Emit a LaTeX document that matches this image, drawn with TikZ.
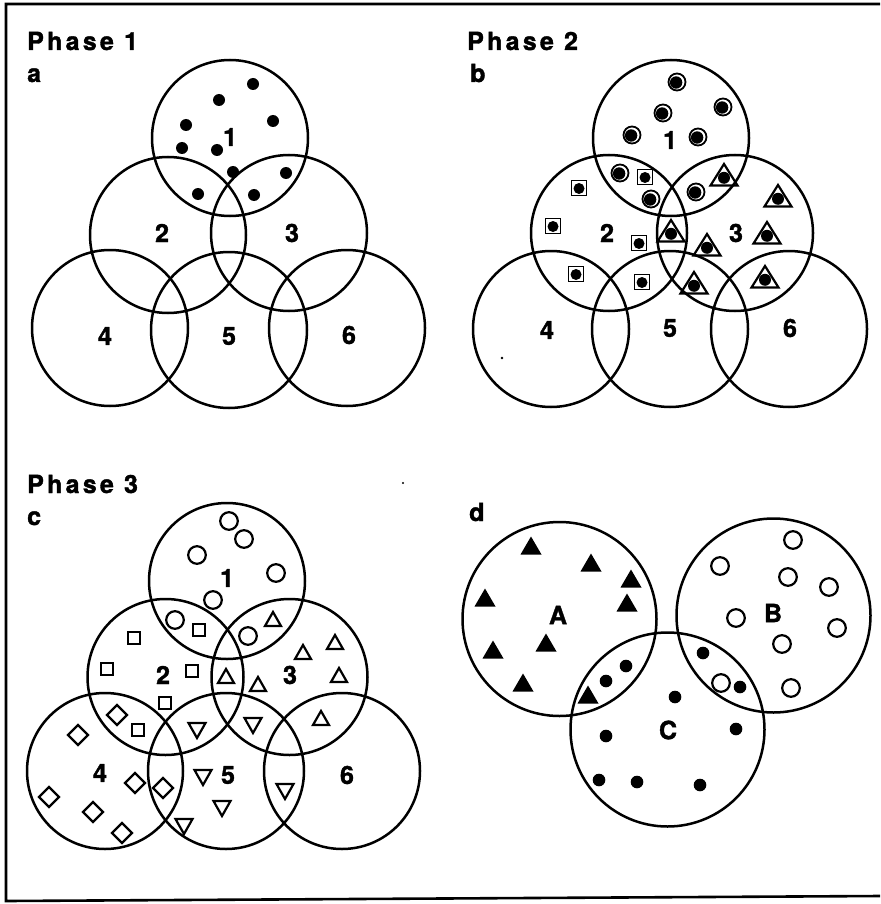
\documentclass[tikz,border=0pt]{standalone}
\usepackage{fontspec}
\setmainfont{TeX Gyre Heros}[BoldFeatures={FakeBold=1.5}]
\begin{document}
\begin{tikzpicture}[x=1pt,y=-1pt,
  venn/.style={circle, draw, line width=2.5pt, inner sep=0pt, minimum size=156pt},
  vennd/.style={circle, draw, line width=2.5pt, inner sep=0pt, minimum size=194pt},
  lbl/.style={font=\fontsize{25}{25}\selectfont\bfseries, inner sep=0pt},
  ttl/.style={font=\fontsize{25}{25}\selectfont\bfseries\addfontfeature{LetterSpace=13}, inner sep=0pt, anchor=base west},
  pics/dotm/.style={code={\fill (0,0) circle[radius=6];}},
  pics/cdot/.style={code={\draw[line width=1.8pt] (0,0) circle[radius=8.5]; \fill (-0.9,0.5) circle[radius=6.2];}},
  pics/sdot/.style={code={\draw[line width=1.8pt] (-7.5,-7.5) rectangle (7.5,7.5); \fill (0,0.5) circle[radius=5.5];}},
  pics/tdot/.style={code={\draw[line width=2.2pt, line join=miter] (0,-13) -- (13.5,8.5) -- (-13.5,8.5) -- cycle; \fill (0,0.8) circle[radius=6];}},
  pics/ocirc/.style={code={\draw[line width=2.2pt] (0,0) circle[radius=8.8];}},
  pics/osq/.style={code={\draw[line width=2.2pt] (-6.3,-6.3) rectangle (6.3,6.3);}},
  pics/otri/.style={code={\draw[line width=2.2pt] (0,-8) -- (8,6) -- (-8,6) -- cycle;}},
  pics/dtri/.style={code={\draw[line width=2.2pt] (0,8) -- (8.5,-7) -- (-8.5,-7) -- cycle;}},
  pics/odia/.style={code={\draw[line width=2.2pt] (0,-10) -- (10,0) -- (0,10) -- (-10,0) -- cycle;}},
  pics/ftri/.style={code={\fill (0,-9.5) -- (10.5,8.5) -- (-10.5,8.5) -- cycle;}},
  pics/fdot/.style={code={\fill (0,0) circle[radius=6.3];}}
]
\useasboundingbox (0,0) rectangle (880,904);
% frame
\draw[line width=2.6pt] (880,4) -- (6,4) -- (6,901) -- (880,896);

% ---------- Panel a ----------
\node[ttl] (ta) at (27,50) {Phase 1};
\node[ttl] (la) at (27,82) {a};
\node[venn] (a1) at (230,138) {};
\node[venn] (a2) at (168,235) {};
\node[venn] (a3) at (289,233) {};
\node[venn] (a4) at (110,328) {};
\node[venn] (a5) at (229,330) {};
\node[venn] (a6) at (347,328) {};
\node[lbl] (na1) at (230,137) {1};
\node[lbl] (na2) at (162,233) {2};
\node[lbl] (na3) at (292,233) {3};
\node[lbl] (na4) at (105,336) {4};
\node[lbl] (na5) at (229,336) {5};
\node[lbl] (na6) at (349,335) {6};
\foreach \x/\y in {253/84,219/100,186/125,273/121,182/148,217/150,233/172,286/173,198/194,254/195}
  \pic at (\x,\y) {dotm};

% ---------- Panel b ----------
\node[ttl] (tb) at (467,50) {Phase 2};
\node[ttl] (lb) at (470,82) {b};
\node[venn] (b1) at (671,138) {};
\node[venn] (b2) at (609,233) {};
\node[venn] (b3) at (735,233) {};
\node[venn] (b4) at (551,329) {};
\node[venn] (b5) at (670,329) {};
\node[venn] (b6) at (789,329) {};
\node[lbl] (nb1) at (670,140) {1};
\node[lbl] (nb2) at (607,233) {2};
\node[lbl] (nb3) at (736,233) {3};
\node[lbl] (nb4) at (547,330) {4};
\node[lbl] (nb5) at (670,328) {5};
\node[lbl] (nb6) at (790,328) {6};
\foreach \x/\y in {677/82,723/107,663/113,632/135,698/137,620/173,651/199,696/192}
  \pic at (\x,\y) {cdot};
\foreach \x/\y in {579/188,645/177,553/226,639/243,576/274,642/282}
  \pic at (\x,\y) {sdot};
\foreach \x/\y in {724/177,778/198,671/233,707/247,767/235,694/285,765/279}
  \pic at (\x,\y) {tdot};
\fill (502,358) circle[radius=1.3];

% ---------- Panel c ----------
\node[ttl] (tc) at (27,493) {Phase 3};
\node[ttl] (lc) at (27,525) {c};
\node[venn] (c1) at (227,581) {};
\node[venn] (c2) at (165.5,677) {};
\node[venn] (c3) at (289.5,677) {};
\node[venn] (c4) at (105,771) {};
\node[venn] (c5) at (226,771) {};
\node[venn] (c6) at (342,771) {};
\node[lbl] (nc1) at (227,578) {1};
\node[lbl] (nc2) at (163,675) {2};
\node[lbl] (nc3) at (290,675) {3};
\node[lbl] (nc4) at (100,773) {4};
\node[lbl] (nc5) at (228,775) {5};
\node[lbl] (nc6) at (347,775) {6};
\foreach \x/\y in {229/521,244/539,197/555,276/573,213/600,175/620,248/636}
  \pic at (\x,\y) {ocirc};
\foreach \x/\y in {199/630,134/638,107/669,192/671,165/703,138/730}
  \pic at (\x,\y) {osq};
\foreach \x/\y in {273/620,335/643,303/653,226/677,258/685,339/676,321/719}
  \pic at (\x,\y) {otri};
\foreach \x/\y in {197/730,253/725,203/777,285/791,222/808,184/826}
  \pic at (\x,\y) {dtri};
\foreach \x/\y in {117/715,78/735,135/783,163/788,49/797,93/812,122/833}
  \pic at (\x,\y) {odia};
\fill (403,483) circle[radius=1.2];

% ---------- Panel d ----------
\node[ttl] (ld) at (469,521) {d};
\node[vennd] (dA) at (559.5,619) {};
\node[vennd] (dB) at (773.5,615.5) {};
\node[vennd] (dC) at (667.5,729.5) {};
\node[lbl] (nA) at (558,615) {A};
\node[lbl] (nB) at (773,613) {B};
\node[lbl] (nC) at (668,730) {C};
\foreach \x/\y in {531/546,591/563,631/579,485/598,627/603,546/643,493/650,523/683,588/695}
  \pic at (\x,\y) {ftri};
\foreach \x/\y in {793/540,720/566,788/577,829/587,736/618,837/628,782/644,721/683,791/688}
  \pic at (\x,\y) {ocirc};
\foreach \x/\y in {626/666,606/681,703/653,740/687,675/697,606/736,736/729,599/780,637/782,700/785}
  \pic at (\x,\y) {fdot};
\end{tikzpicture}
\end{document}
